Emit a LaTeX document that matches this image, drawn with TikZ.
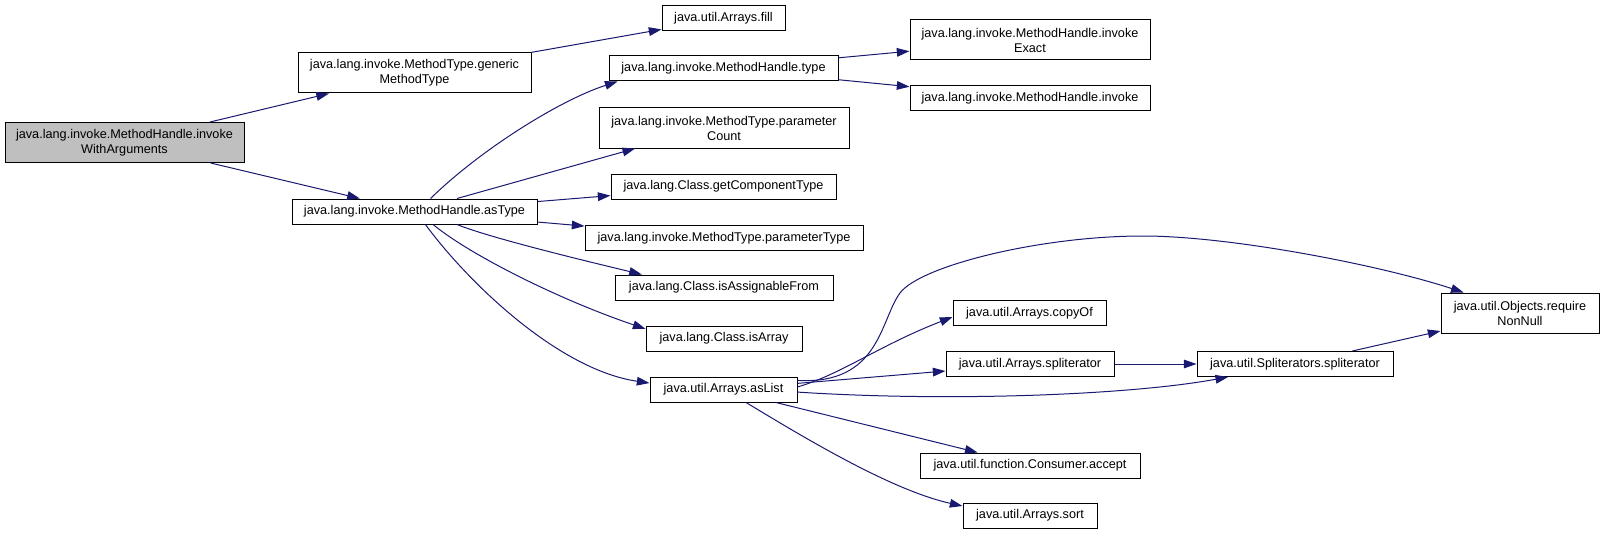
\documentclass[tikz,border=0pt]{standalone}
\usepackage{fontspec}
\setmainfont{Liberation Sans}
\usetikzlibrary{arrows.meta}
\definecolor{callblue}{RGB}{25,25,112}
\definecolor{rootgray}{RGB}{191,191,191}
\tikzset{
  fn/.style={draw=black, fill=white, line width=0.75pt, inner sep=0pt,
    align=center, font=\fontsize{9.5}{11.25}\selectfont,
    minimum width=#1*0.75pt, minimum height=18.75pt},
  fn2/.style={fn=#1, minimum height=30pt},
  call/.style={draw=callblue, line width=0.75pt,
    -{Triangle[length=9.5pt,width=6.5pt]}},
}

\begin{document}
\begin{tikzpicture}[x=0.75pt, y=-0.75pt]
\useasboundingbox (0,0) rectangle (1604,535);

%% == CALLER ==================================================================
\node[fn2=239, fill=rootgray] (iwa) at (124.5,142.5)
  {java.lang.invoke.MethodHandle.invoke\\WithArguments};

%% == RANK 1 ==================================================================
\node[fn2=233] (gmt)    at (414.5, 73.0) {java.lang.invoke.MethodType.generic\\MethodType};
\node[fn=245]  (astype) at (414.5,211.5) {java.lang.invoke.MethodHandle.asType};

%% == RANK 2 ==================================================================
\node[fn=123]  (arrfill) at (723.5, 18.5) {java.util.Arrays.fill};
\node[fn=229]  (mhtype)  at (723.5, 68.5) {java.lang.invoke.MethodHandle.type};
\node[fn2=250] (pcount)  at (724.0,128.0) {java.lang.invoke.MethodType.parameter\\Count};
\node[fn=225]  (gct)     at (723.5,186.5) {java.lang.Class.getComponentType};
\node[fn=278]  (ptype)   at (724.0,238.0) {java.lang.invoke.MethodType.parameterType};
\node[fn=218]  (isaf)    at (724.0,287.5) {java.lang.Class.isAssignableFrom};
\node[fn=156]  (isarr)   at (724.0,338.5) {java.lang.Class.isArray};
\node[fn=147]  (aslist)  at (723.5,389.5) {java.util.Arrays.asList};

%% == RANK 3 ==================================================================
\node[fn2=240] (invex)  at (1030.0, 40.0) {java.lang.invoke.MethodHandle.invoke\\Exact};
\node[fn=240]  (inv)    at (1030.0, 98.5) {java.lang.invoke.MethodHandle.invoke};
\node[fn=153]  (copyof) at (1029.5,313.0) {java.util.Arrays.copyOf};
\node[fn=168]  (aspl)   at (1030.0,364.0) {java.util.Arrays.spliterator};
\node[fn=220]  (accept) at (1030.0,465.5) {java.util.function.Consumer.accept};
\node[fn=134]  (sort)   at (1030.0,515.5) {java.util.Arrays.sort};

%% == RANK 4, 5 ===============================================================
\node[fn=196]  (sspl) at (1295,364) {java.util.Spliterators.spliterator};
\node[fn2=158] (rnn)  at (1520,313) {java.util.Objects.require\\NonNull};

%% == CALLS ===================================================================
\draw[call] (iwa) -- (gmt);
\draw[call] (iwa) -- (astype);
\draw[call] (gmt) -- (arrfill);

% asType fans out
\draw[call] (astype.39) .. controls (480,150) and (560,100) .. (mhtype.187);
\draw[call] (astype.17.2) -- (pcount.193);
\draw[call] (astype) -- (gct);
\draw[call] (astype) -- (ptype);
\draw[call] (astype.-17) .. controls (490,238) and (590,262) .. (isaf.171);
\draw[call] (astype.-35.5) .. controls (470,255) and (560,300) .. (isarr.173.8);
\draw[call] (astype.-50) .. controls (470,285) and (560,370) .. (aslist.175.7);

% type
\draw[call] (mhtype) -- (invex);
\draw[call] (mhtype) -- (inv);

% asList fans out
\draw[call] (aslist.2.7) .. controls (840,375) and (880,345) .. (copyof.183.7);
\draw[call] (aslist.7.4) .. controls (880,385) and (880,320) .. (900,293)
  .. controls (920,266) and (1040,236) .. (1143,236)
  .. controls (1230,236) and (1380,265) .. (rnn.160.7);
\draw[call] (aslist) -- (aspl);
\draw[call] (aslist.-2.7) .. controls (950,402) and (1130,395) .. (sspl.191);
\draw[call] (aslist) -- (accept);
\draw[call] (aslist.-30.2) .. controls (800,435) and (890,490) .. (sort.172.8);

% spliterators
\draw[call] (aspl) -- (sspl);
\draw[call] (sspl) -- (rnn);
\end{tikzpicture}
\end{document}
